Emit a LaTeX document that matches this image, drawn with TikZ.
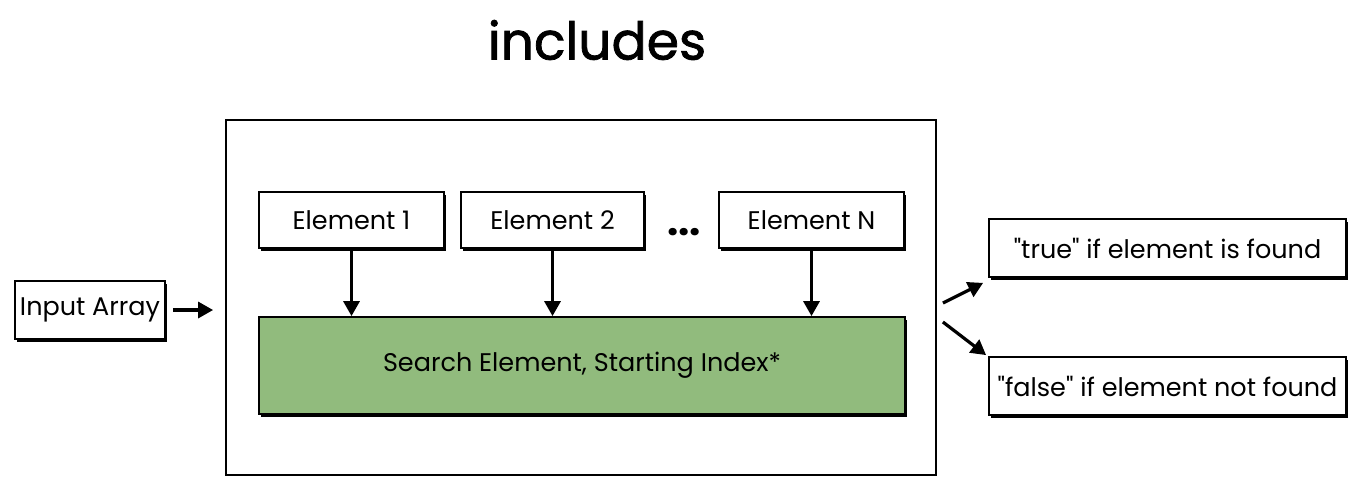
\documentclass[tikz,border=0pt]{standalone}
\usepackage{fontspec}
\setmainfont{Poppins}[Ligatures=TeXOff]
\usetikzlibrary{arrows.meta,shadows}
\definecolor{boxgreen}{RGB}{145,187,125}
\tikzset{
  box/.style={draw=black, line width=1.8pt, fill=white, inner sep=0pt,
    font=\fontsize{25.5}{30}\selectfont,
    drop shadow={shadow xshift=2pt, shadow yshift=-2.5pt, fill=black, opacity=1}},
  outerbox/.style={draw=black, line width=1.8pt, fill=white, inner sep=0pt},
  arr/.style={line width=3.2pt, -{Triangle[length=15pt,width=16pt]}},
}
\begin{document}
\begin{tikzpicture}[x=1pt,y=-1pt]
\useasboundingbox (0,0) rectangle (1362,488);
\node[font=\fontsize{52}{60}\selectfont\addfontfeature{FakeBold=1.5}] (title) at (597,40) {includes};
\node[outerbox, minimum width=710pt, minimum height=355pt] (outer) at (581,297.5) {};
\node[box, minimum width=185pt, minimum height=56pt] (e1) at (351.5,220) {Element 1};
\node[box, minimum width=183pt, minimum height=56pt] (e2) at (552.5,220) {Element 2};
\node[box, minimum width=185pt, minimum height=56pt] (eN) at (811.5,220) {Element N};
\node[font=\fontsize{40}{40}\bfseries, anchor=base] (dots) at (684,235) {...};
\node[box, fill=boxgreen, minimum width=646pt, minimum height=97pt] (search) at (582,365.5) {\raisebox{-3pt}{Search Element, Starting Index*}};
\node[box, minimum width=150pt, minimum height=58pt] (input) at (90,310) {Input Array};
\node[box, minimum width=357pt, minimum height=58pt] (true) at (1167.5,248) {"true" if element is found};
\node[box, minimum width=357pt, minimum height=58pt] (false) at (1167.5,386) {"false" if element not found};
\draw[arr] (e1.south) -- (e1.south |- search.north);
\draw[arr] (e2.south) -- (e2.south |- search.north);
\draw[arr] (eN.south) -- (eN.south |- search.north);
\draw[arr] ([xshift=7pt]input.east) -- ([xshift=-12pt]outer.west |- input.east);
\draw[arr] ([shift={(6,5.5)}]outer.east) -- ([shift={(-5,5)}]true.south west);
\draw[arr] ([shift={(6,24.5)}]outer.east) -- ([shift={(-2,-1)}]false.north west);
\end{tikzpicture}
\end{document}
